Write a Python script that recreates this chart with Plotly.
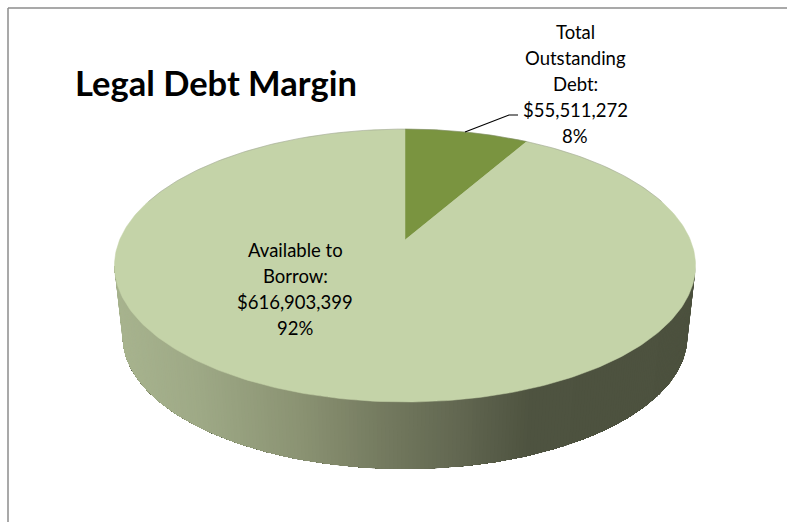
import numpy as np
import plotly.graph_objects as go

# Slice data
labels = ["Total Outstanding Debt", "Available to Borrow"]
values = [55511272, 616903399]
slice_colors = ["#7a9440", "#c4d3a8"]

W, H = 787, 522

# Perspective disc model: screen position of a point on the unit circle
APEX_X, APEX_Y = 405.0, 240.0
RADIUS_X, RADIUS_Y = 285.4, 131.7
TILT = 0.187
BASE_SCALE = 0.972
BASE_APEX_Y = 311.5


def project(theta, apex_y=APEX_Y, scale=1.0):
    u, v = np.sin(theta), np.cos(theta)
    d = 1 + TILT * v
    return APEX_X + scale * RADIUS_X * u / d, apex_y - scale * RADIUS_Y * v / d


def side_color(x):
    # Shading of the rim runs from pale sage on the left to dark olive on the right
    stops_x = [114, 200, 300, 400, 460, 530, 700]
    stops = np.array([
        [168, 180, 143], [158, 169, 134], [139, 147, 115],
        [112, 118, 92], [98, 103, 81], [78, 83, 64], [76, 81, 62],
    ])
    rgb = [np.interp(x, stops_x, stops[:, i]) for i in range(3)]
    return "rgb(%d,%d,%d)" % tuple(int(round(c)) for c in rgb)


fig = go.Figure()

# Rim: overlapping bands painted from the dark end to the light end,
# so neighbouring colours blend without seams
extreme = np.arccos(-TILT)
rim_t = np.linspace(extreme, 2 * np.pi - extreme, 241)
for k in range(0, len(rim_t) - 1):
    seg = rim_t[k:]
    xt, yt = project(seg)
    xb, yb = project(seg[::-1], BASE_APEX_Y, BASE_SCALE)
    color = side_color((xt[0] + xb[-1]) / 2)
    fig.add_trace(go.Scatter(
        x=np.r_[xt, xb], y=np.r_[yt, yb], mode="lines", fill="toself",
        fillcolor=color, line=dict(width=0), hoverinfo="skip",
    ))

# Top face: one wedge per value, clockwise from twelve o'clock
shares = np.array(values, dtype=float) / sum(values)
starts = np.r_[0, np.cumsum(shares)[:-1]] * 2 * np.pi
for start, share, color, label_name in zip(starts, shares, slice_colors, labels):
    t = np.linspace(start, start + share * 2 * np.pi, 360)
    xs, ys = project(t)
    fig.add_trace(go.Scatter(
        x=np.r_[APEX_X, xs, APEX_X], y=np.r_[APEX_Y, ys, APEX_Y],
        mode="lines", fill="toself", fillcolor=color,
        line=dict(color=color, width=0.5), name=label_name, hoverinfo="skip",
    ))

# Faint rim along the back of the disc
t_back = np.linspace(-np.pi * 0.4, np.pi * 0.4, 240)
xs, ys = project(t_back)
fig.add_trace(go.Scatter(x=xs, y=ys, mode="lines", hoverinfo="skip",
                         line=dict(color="rgba(130,130,130,0.4)", width=0.8)))

FONT = "Lato"
LABEL_SIZE = 18.5

# Leader from the small slice to its label
fig.add_trace(go.Scatter(x=[465, 509, 518], y=[132, 115, 115], mode="lines",
                         hoverinfo="skip", line=dict(color="black", width=1.2)))


def label(x, y, text, size=LABEL_SIZE):
    fig.add_annotation(x=x, y=y, text=text, showarrow=False,
                       font=dict(family=FONT, size=size, color="black"),
                       xanchor="center", yanchor="middle")


debt_lines = ["Total", "Outstanding", "Debt:", "$55,511,272", "8%"]
for i, line in enumerate(debt_lines):
    label(575, 32 + i * 26, line)

borrow_lines = ["Available to", "Borrow:", "$616,903,399", "92%"]
for i, line in enumerate(borrow_lines):
    label(295, 250 + i * 26, line)

label(216, 82, "<b>Legal Debt Margin</b>", size=34.5)

# Chart area frame: only the top and left edges fall inside the page
frame = dict(color="#8c8c8c", width=1.5)
fig.add_shape(type="line", x0=8, x1=W, y0=8, y1=8, line=frame)
fig.add_shape(type="line", x0=8, x1=8, y0=8, y1=H, line=frame)

fig.update_layout(
    width=W, height=H, margin=dict(l=0, r=0, t=0, b=0), showlegend=False,
    paper_bgcolor="white", plot_bgcolor="white",
    xaxis=dict(range=[0, W], visible=False, fixedrange=True),
    yaxis=dict(range=[H, 0], visible=False, fixedrange=True),
)

fig.write_html("out.html", config=dict(displayModeBar=False))
